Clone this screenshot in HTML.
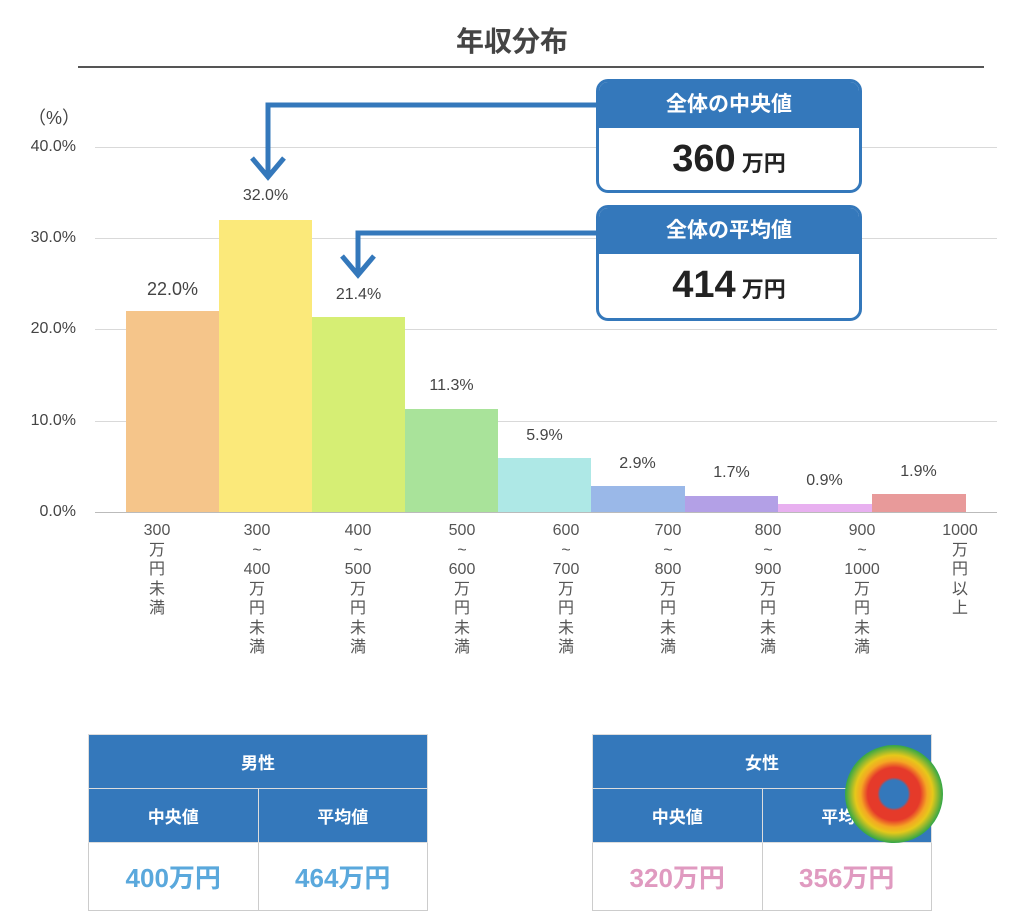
<!DOCTYPE html>
<html><head><meta charset="utf-8">
<style>
body{margin:0;background:#fff;width:1024px;height:924px;position:relative;overflow:hidden;font-family:"Liberation Sans","Noto Sans CJK JP",sans-serif;}
.a{position:absolute}
.title{left:0;width:1024px;top:20px;text-align:center;font-size:28px;font-weight:bold;color:#444}
.tick{font-size:16px;color:#444;text-align:right;width:72px;left:4px}
.grid{left:95px;width:902px;height:1px;background:#d9d9d9}
.bar{position:absolute}
.val{position:absolute;font-size:16px;color:#444;text-align:center;width:93px}
.xl{position:absolute;font-size:16px;color:#555;text-align:center;width:60px;line-height:19.5px}
.box{position:absolute;left:596px;width:260px;border:3px solid #3478bb;border-radius:12px;background:#fff;overflow:hidden}
.box .h{background:#3478bb;color:#fff;font-weight:bold;font-size:21px;text-align:center;height:46px;line-height:46px}
.box .v{text-align:center;font-weight:bold;font-size:38px;color:#222;line-height:62px}
.box .v span{font-size:22px}
.tbl{position:absolute;top:734px;width:340px;border-collapse:collapse;}
.tbl td{border:1px solid #ccc;text-align:center;font-weight:bold;padding:0}
.tbl .hd td{background:#3478bb;color:#fff;font-size:17px;height:53px;border-color:#ddd}
.tbl .vv td{height:67px;font-size:26px}
</style></head><body>
<div class="a title">年収分布</div>
<div class="a" style="left:78px;top:66px;width:906px;height:2px;background:#555"></div>
<div class="a" style="left:28px;top:104px;font-size:18px;color:#444">（%）</div>
<div class="a grid" style="top:147px"></div>
<div class="a grid" style="top:238px"></div>
<div class="a grid" style="top:329px"></div>
<div class="a grid" style="top:421px"></div>
<div class="a grid" style="top:512px;background:#bbb"></div>
<div class="a tick" style="top:138px">40.0%</div>
<div class="a tick" style="top:229px">30.0%</div>
<div class="a tick" style="top:320px">20.0%</div>
<div class="a tick" style="top:412px">10.0%</div>
<div class="a tick" style="top:503px">0.0%</div>

<div class="bar" style="left:126px;width:93px;top:311px;height:201px;background:#f5c58a"></div>
<div class="bar" style="left:219px;width:93px;top:220px;height:292px;background:#fbe97a"></div>
<div class="bar" style="left:312px;width:93px;top:317px;height:195px;background:#d6ee74"></div>
<div class="bar" style="left:405px;width:93px;top:409px;height:103px;background:#a9e39a"></div>
<div class="bar" style="left:498px;width:93px;top:458px;height:54px;background:#aee8e6"></div>
<div class="bar" style="left:591px;width:94px;top:486px;height:26px;background:#9ab8e8"></div>
<div class="bar" style="left:685px;width:93px;top:496px;height:16px;background:#b3a0e6"></div>
<div class="bar" style="left:778px;width:94px;top:504px;height:8px;background:#e8b0f0"></div>
<div class="bar" style="left:872px;width:94px;top:494px;height:18px;background:#e89a9a"></div>

<div class="val" style="left:126px;top:279px;font-size:18px">22.0%</div>
<div class="val" style="left:219px;top:187px">32.0%</div>
<div class="val" style="left:312px;top:286px">21.4%</div>
<div class="val" style="left:405px;top:377px">11.3%</div>
<div class="val" style="left:498px;top:427px">5.9%</div>
<div class="val" style="left:591px;top:455px">2.9%</div>
<div class="val" style="left:685px;top:464px">1.7%</div>
<div class="val" style="left:778px;top:472px">0.9%</div>
<div class="val" style="left:872px;top:463px">1.9%</div>

<div class="xl" style="left:127px;top:521px">300<br>万<br>円<br>未<br>満</div>
<div class="xl" style="left:227px;top:521px">300<br>~<br>400<br>万<br>円<br>未<br>満</div>
<div class="xl" style="left:328px;top:521px">400<br>~<br>500<br>万<br>円<br>未<br>満</div>
<div class="xl" style="left:432px;top:521px">500<br>~<br>600<br>万<br>円<br>未<br>満</div>
<div class="xl" style="left:536px;top:521px">600<br>~<br>700<br>万<br>円<br>未<br>満</div>
<div class="xl" style="left:638px;top:521px">700<br>~<br>800<br>万<br>円<br>未<br>満</div>
<div class="xl" style="left:738px;top:521px">800<br>~<br>900<br>万<br>円<br>未<br>満</div>
<div class="xl" style="left:832px;top:521px">900<br>~<br>1000<br>万<br>円<br>未<br>満</div>
<div class="xl" style="left:930px;top:521px">1000<br>万<br>円<br>以<br>上</div>

<svg class="a" style="left:0;top:0" width="1024" height="924">
<g fill="none" stroke="#3478bb" stroke-width="5">
<polyline points="598,105 268,105 268,175"/>
<polyline points="252,158 268,177 284,158"/>
<polyline points="598,233 358,233 358,272"/>
<polyline points="342,256 358,275 374,256"/>
</g>
</svg>

<div class="box" style="top:79px;height:108px"><div class="h">全体の中央値</div><div class="v">360<span> 万円</span></div></div>
<div class="box" style="top:205px;height:110px"><div class="h">全体の平均値</div><div class="v">414<span> 万円</span></div></div>

<table class="tbl" style="left:88px">
<tr class="hd"><td colspan="2">男性</td></tr>
<tr class="hd"><td>中央値</td><td>平均値</td></tr>
<tr class="vv" style="color:#5aa8dc"><td>400万円</td><td>464万円</td></tr>
</table>
<table class="tbl" style="left:592px">
<tr class="hd"><td colspan="2">女性</td></tr>
<tr class="hd"><td>中央値</td><td>平均値</td></tr>
<tr class="vv" style="color:#e09ac0"><td>320万円</td><td>356万円</td></tr>
</table>
<div class="a" style="left:845px;top:745px;width:98px;height:98px;border-radius:50%;background:radial-gradient(circle,#3478bb 0 20%,#e53a2a 24% 38%,#f5a623 48%,#e6c81a 56%,#3aa845 70%,#3a8ee0 88%)"></div>
</body></html>
